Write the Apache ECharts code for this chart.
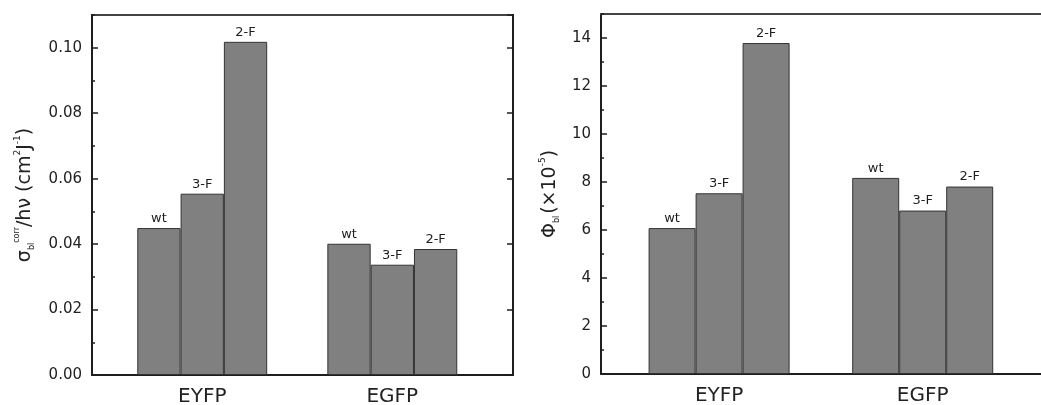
<!DOCTYPE html>
<html>
<head>
<meta charset="utf-8">
<script src="https://cdn.jsdelivr.net/npm/echarts@6/dist/echarts.min.js"></script>
<style>
html,body{margin:0;padding:0;background:#fff;}
#c{width:1041px;height:405px;}
</style>
</head>
<body>
<div id="c"></div>
<script>
// ---- data ----
var categories = ['EYFP', 'EGFP'];
var variants = ['wt', '3-F', '2-F'];
var sigmaWt = [0.0449, 0.0401];
var sigma3F = [0.0554, 0.0337];
var sigma2F = [0.1018, 0.0385];
var phiWt = [6.08, 8.17];
var phi3F = [7.53, 6.81];
var phi2F = [13.79, 7.81];
var sigmaTicks = { min: 0, max: 0.11, major: 0.02, minor: 0.01 };
var phiTicks = { min: 0, max: 15, major: 2, minor: 1 };
var catPos = [1, 2];

var FONT = 'DejaVu Sans';
var DARK = '#1e1e1e';
var TXT = '#222';
var BAR = '#808080';

function pts(arr) { return categories.map(function (c, i) { return [catPos[i], arr[i]]; }); }
function catLabel(v) {
  var i = catPos.indexOf(Math.round(v));
  return i >= 0 ? categories[i] : '';
}

var chart = echarts.init(document.getElementById('c'), null, { renderer: 'canvas' });

function xAx(gi) {
  return {
    type: 'value', gridIndex: gi, min: 0.42, max: 2.635,
    axisLine: { show: true, onZero: false, lineStyle: { color: DARK, width: 2 } },
    axisTick: { show: false },
    splitLine: { show: false },
    axisLabel: {
      customValues: catPos, formatter: catLabel,
      fontFamily: FONT, fontSize: 20, color: TXT, margin: 12
    }
  };
}
function yMajor(gi, t, pos, showLabel, name, nameGap, rich, fmt) {
  return {
    type: 'value', gridIndex: gi, position: pos, min: t.min, max: t.max, interval: t.major,
    axisLine: { show: true, onZero: false, lineStyle: { color: DARK, width: 2 } },
    axisTick: { show: true, inside: true, length: 6, lineStyle: { color: DARK, width: 1.5 } },
    splitLine: { show: false },
    axisLabel: {
      show: showLabel, showMaxLabel: false, fontFamily: FONT, fontSize: 15, color: TXT, margin: 10,
      formatter: fmt
    },
    name: name || '', nameLocation: 'middle', nameGap: nameGap || 0, nameRotate: 90,
    nameTextStyle: { fontFamily: FONT, color: TXT, rich: rich || {} }
  };
}
function yMinor(gi, t, pos) {
  return {
    type: 'value', gridIndex: gi, position: pos, min: t.min, max: t.max, interval: t.minor,
    axisLine: { show: false },
    axisTick: { show: true, inside: true, length: 3, lineStyle: { color: DARK, width: 1.5 } },
    splitLine: { show: false },
    axisLabel: { show: false }
  };
}

var richL = {
  m: { fontFamily: FONT, fontSize: 19, color: TXT, lineHeight: 24 },
  sub: { fontFamily: FONT, fontSize: 8, color: TXT, verticalAlign: 'bottom', padding: [0, 0, 1, 0] },
  sup: { fontFamily: FONT, fontSize: 8, color: TXT, verticalAlign: 'top' },
  sup2: { fontFamily: FONT, fontSize: 9, color: TXT, verticalAlign: 'top' }
};
var richR = {
  m: { fontFamily: FONT, fontSize: 19, color: TXT, lineHeight: 24 },
  sub: { fontFamily: FONT, fontSize: 8, color: TXT, verticalAlign: 'bottom', padding: [0, 2, 1, 0] },
  sup: { fontFamily: FONT, fontSize: 9, color: TXT, verticalAlign: 'top' }
};

function barSeries(gi, arr, name, width) {
  return {
    type: 'bar', name: name, xAxisIndex: gi, yAxisIndex: gi * 3,
    data: pts(arr), barWidth: width, barGap: '0%',
    itemStyle: { color: BAR, borderColor: '#333', borderWidth: 1 },
    label: { show: true, position: 'top', distance: 3, formatter: name, fontFamily: FONT, fontSize: 13, color: DARK }
  };
}

var rightHidden = yMajor(1, phiTicks, 'right', false);
rightHidden.show = false;

chart.setOption({
  animation: false,
  backgroundColor: '#fff',
  grid: [
    { left: 92, top: 15, width: 421, height: 360, outerBoundsMode: 'none', containLabel: false,
      show: true, borderColor: '#444', borderWidth: 2, backgroundColor: 'transparent' },
    { left: 601, top: 14, width: 451, height: 360, outerBoundsMode: 'none', containLabel: false,
      show: false }
  ],
  xAxis: [
    xAx(0),
    xAx(1),
    { type: 'value', gridIndex: 1, position: 'top', min: 0.42, max: 2.635,
      axisLine: { show: true, onZero: false, lineStyle: { color: '#444', width: 2 } },
      axisTick: { show: false }, axisLabel: { show: false }, splitLine: { show: false } }
  ],
  yAxis: [
    yMajor(0, sigmaTicks, 'left', true,
      '{m|σ}{sub|bl}{sup|corr}{m|/hν (cm}{sup2|2}{m|J}{sup2|-1}{m|)}', 55, richL,
      function (v) { return v.toFixed(2); }),
    yMinor(0, sigmaTicks, 'left'),
    yMajor(0, sigmaTicks, 'right', false),
    yMajor(1, phiTicks, 'left', true,
      '{m|Φ}{sub|bl}{m|(×10}{sup|-5}{m|)}', 39, richR,
      function (v) { return String(v); }),
    yMinor(1, phiTicks, 'left'),
    rightHidden
  ],
  series: [
    barSeries(0, sigmaWt, variants[0], 43.3),
    barSeries(0, sigma3F, variants[1], 43.3),
    barSeries(0, sigma2F, variants[2], 43.3),
    barSeries(1, phiWt, variants[0], 47),
    barSeries(1, phi3F, variants[1], 47),
    barSeries(1, phi2F, variants[2], 47)
  ]
});
</script>
</body>
</html>
